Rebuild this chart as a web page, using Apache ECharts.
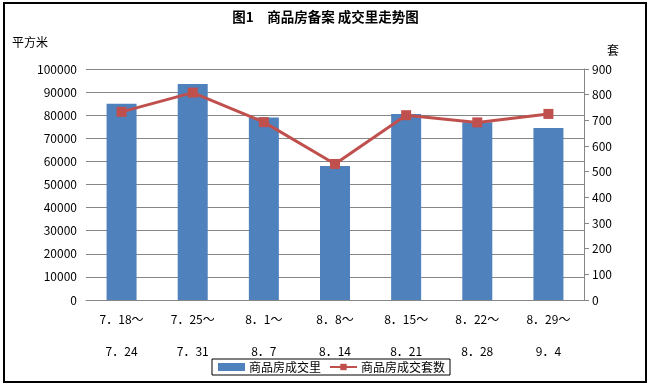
<!DOCTYPE html>
<html>
<head>
<meta charset="utf-8">
<script src="https://cdn.jsdelivr.net/npm/echarts@6/dist/echarts.min.js"></script>
<style>
html,body{margin:0;padding:0;background:#fff;}
#chart{width:651px;height:385px;}
</style>
</head>
<body>
<div id="chart"></div>
<script>
var categoriesStart = ['7．18～', '7．25～', '8．1～', '8．8～', '8．15～', '8．22～', '8．29～'];
var categoriesEnd = ['7．24', '7．31', '8．7', '8．14', '8．21', '8．28', '9．4'];
var areaValues = [85000, 93500, 79000, 58000, 80500, 77000, 74500];
var unitValues = [733, 808, 693, 530, 720, 692, 725];
var leftTicks = {min: 0, max: 100000, interval: 10000};
var rightTicks = {min: 0, max: 900, interval: 100};

var categories = categoriesStart.map(function (s, i) { return s + '\n\n' + categoriesEnd[i]; });
var FONT = '"Noto Sans CJK SC", "DejaVu Sans", sans-serif';

var chart = echarts.init(document.getElementById('chart'));
chart.setOption({
  backgroundColor: '#ffffff',
  animation: false,
  title: {
    text: '图1　商品房备案 成交里走势图',
    left: 'center',
    top: 10,
    padding: 0,
    textStyle: {fontFamily: FONT, fontSize: 13.5, fontWeight: 'bold', color: '#000'}
  },
  graphic: [{
    type: 'rect',
    shape: {x: 4, y: 3, width: 642, height: 379},
    style: {fill: 'none', stroke: '#000', lineWidth: 2},
    silent: true,
    z: 100
  }],
  legend: {
    left: 212,
    top: 359,
    padding: [2, 5, 2, 6],
    borderColor: '#000',
    borderWidth: 1,
    borderRadius: 0,
    itemGap: 8,
    itemWidth: 27,
    itemHeight: 8,
    textStyle: {fontFamily: FONT, fontSize: 12, color: '#000', padding: [0, 0, 0, -1]},
    data: [
      {name: '商品房成交里', icon: 'rect'},
      {name: '商品房成交套数'}
    ]
  },
  grid: {left: 86, right: 67, top: 69, bottom: 85, containLabel: false},
  xAxis: {
    type: 'category',
    data: categories,
    axisLine: {show: true, lineStyle: {color: '#868686', width: 1}},
    axisTick: {show: false},
    axisLabel: {
      fontFamily: FONT, fontSize: 12, color: '#000', lineHeight: 16, margin: 11, interval: 0
    }
  },
  yAxis: [{
    type: 'value',
    min: leftTicks.min, max: leftTicks.max, interval: leftTicks.interval,
    name: '平方米',
    nameLocation: 'end',
    nameGap: 21,
    nameTextStyle: {fontFamily: FONT, fontSize: 12, color: '#000', padding: [0, 112, 0, 0]},
    axisLine: {show: false},
    axisTick: {show: false},
    axisLabel: {fontFamily: FONT, fontSize: 12, color: '#000', margin: 9,
      formatter: function (v) { return String(v); }},
    splitLine: {show: true, lineStyle: {color: '#868686', width: 1}}
  }, {
    type: 'value',
    position: 'right',
    min: rightTicks.min, max: rightTicks.max, interval: rightTicks.interval,
    name: '套',
    nameLocation: 'end',
    nameGap: 13,
    nameTextStyle: {fontFamily: FONT, fontSize: 12, color: '#000', padding: [0, 0, 0, 58]},
    axisLine: {show: true, lineStyle: {color: '#868686', width: 1}},
    axisTick: {show: true, inside: false, length: 5, lineStyle: {color: '#868686'}},
    axisLabel: {fontFamily: FONT, fontSize: 12, color: '#000', margin: 8,
      formatter: function (v) { return String(v); }},
    splitLine: {show: false}
  }],
  series: [{
    name: '商品房成交里',
    type: 'bar',
    yAxisIndex: 0,
    data: areaValues,
    barWidth: 30,
    itemStyle: {color: '#4F81BD'}
  }, {
    name: '商品房成交套数',
    type: 'line',
    yAxisIndex: 1,
    data: unitValues,
    symbol: 'rect',
    symbolSize: 10,
    lineStyle: {color: '#C0504D', width: 3},
    itemStyle: {color: '#C0504D'}
  }]
});
</script>
</body>
</html>
